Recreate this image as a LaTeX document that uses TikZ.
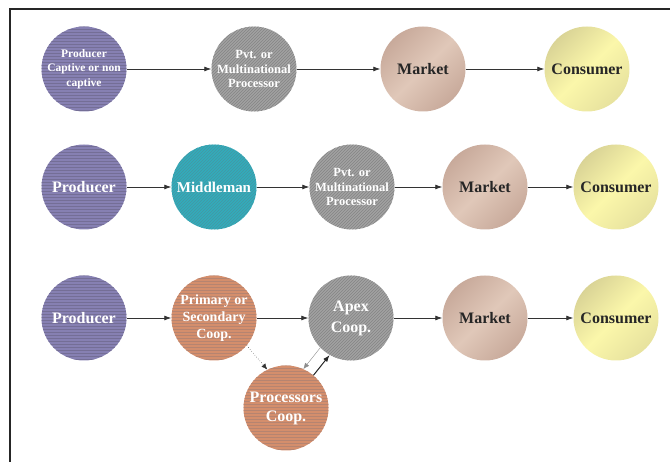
\documentclass[tikz,border=0pt]{standalone}
\usepackage{fontspec}
\setmainfont{Liberation Serif}
\usetikzlibrary{arrows.meta,patterns}

\definecolor{prodlav}{RGB}{134,128,178}
\definecolor{prodline}{RGB}{116,110,150}
\definecolor{pvtgray}{RGB}{162,162,162}
\definecolor{pvtline}{RGB}{132,132,132}
\definecolor{midteal}{RGB}{50,172,188}
\definecolor{midline}{RGB}{70,150,162}
\definecolor{mktdark}{RGB}{200,170,155}
\definecolor{mktlight}{RGB}{224,200,185}
\definecolor{condark}{RGB}{218,212,150}
\definecolor{conlight}{RGB}{251,247,170}
\definecolor{coopor}{RGB}{212,142,108}
\definecolor{coopline}{RGB}{182,132,112}

\begin{document}
\begin{tikzpicture}[x=1pt,y=1pt,
  stage/.style={circle, minimum size=85pt, inner sep=0pt, align=center,
    font=\bfseries\fontsize{16}{19}\selectfont, text=white},
  producer/.style={stage, fill=prodlav,
    postaction={pattern=horizontal lines, pattern color=prodline}},
  processor/.style={stage, fill=pvtgray,
    postaction={pattern=north east lines, pattern color=pvtline}},
  middle/.style={stage, fill=midteal,
    postaction={pattern=north east lines, pattern color=midline}},
  coop/.style={stage, fill=coopor,
    postaction={pattern=horizontal lines, pattern color=coopline}},
  market/.style={stage, text=black!85, shading=axis, left color=mktdark,
    right color=mktdark, middle color=mktlight, shading angle=45},
  consumer/.style={stage, text=black!85, shading=axis, left color=condark,
    right color=condark!60!conlight, middle color=conlight, shading angle=45},
  flow/.style={-{Latex[length=7pt,width=5pt]}, line width=0.8pt, draw=black!80}]

  \useasboundingbox (0,0) rectangle (670,-462);
  % frame
  \draw[line width=1.2pt, black!85] (10,-462) -- (10,-9) -- (670,-9);

  % first chain
  \node[producer, font=\bfseries\fontsize{11.5}{14.5}\selectfont] (prodA) at (84,-69)
    {Producer\\Captive or non\\captive};
  \node[processor, font=\bfseries\fontsize{12.5}{14.5}\selectfont] (pvtA) at (254,-69)
    {Pvt. or\\Multinational\\Processor};
  \node[market] (mktA) at (423,-69) {Market};
  \node[consumer] (conA) at (587,-69) {Consumer};
  \draw[flow] (prodA) -- (pvtA);
  \draw[flow] (pvtA) -- (mktA);
  \draw[flow] (mktA) -- (conA);

  % second chain
  \node[producer] (prodB) at (84,-187) {Producer};
  \node[middle, font=\bfseries\fontsize{15}{18}\selectfont] (midB) at (214,-187) {Middleman};
  \node[processor, font=\bfseries\fontsize{12.5}{14.5}\selectfont] (pvtB) at (352,-187)
    {Pvt. or\\Multinational\\Processor};
  \node[market] (mktB) at (485,-187) {Market};
  \node[consumer] (conB) at (616,-187) {Consumer};
  \draw[flow] (prodB) -- (midB);
  \draw[flow] (midB) -- (pvtB);
  \draw[flow] (pvtB) -- (mktB);
  \draw[flow] (mktB) -- (conB);

  % third chain
  \node[producer] (prodC) at (84,-318) {Producer};
  \node[coop, font=\bfseries\fontsize{14}{17}\selectfont] (primC) at (214,-318)
    {Primary or\\Secondary\\Coop.};
  \node[processor, font=\bfseries\fontsize{16}{21}\selectfont] (apexC) at (351,-318)
    {Apex\\Coop.};
  \node[coop] (procC) at (286,-408) {Processors\\Coop.};
  \node[market] (mktC) at (485,-318) {Market};
  \node[consumer] (conC) at (616,-318) {Consumer};
  \draw[flow] (prodC) -- (primC);
  \draw[flow] (primC) -- (apexC);
  \draw[flow] (apexC) -- (mktC);
  \draw[flow] (mktC) -- (conC);
  \draw[-{Latex[length=6pt,width=5pt]}, line width=0.5pt, black!80, dotted]
    (primC.-40) -- (procC.116);
  \draw[-{Latex[length=6pt,width=5pt]}, line width=0.4pt, black!45]
    (apexC.224) -- (procC.66);
  \draw[-{Latex[length=7pt,width=5pt]}, line width=1pt, black!85]
    (procC.50) -- (apexC.240);
\end{tikzpicture}
\end{document}
